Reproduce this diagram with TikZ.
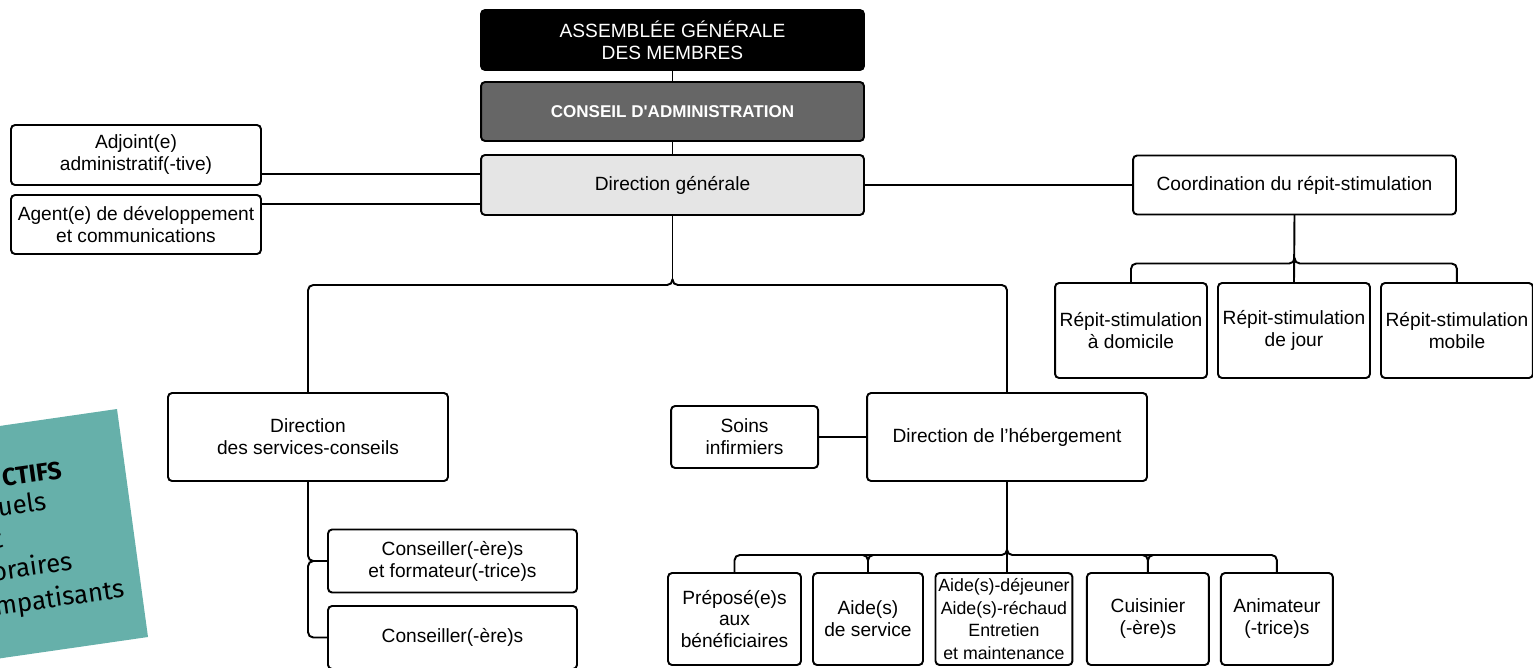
\documentclass[tikz,border=0pt]{standalone}
\usepackage{fontspec}
\setmainfont{Liberation Sans}
\newfontfamily\notefont{Fira Sans}
\usetikzlibrary{ % tikz packages
    positioning,calc
}
\definecolor{boardgray}{HTML}{666666}
\definecolor{dirgray}{HTML}{E5E5E5}
\definecolor{notefill}{RGB}{102,176,170}
\tikzset{unit/.style={
    draw,
    line width=1.1pt,
    rounded corners=2.3pt,
    align=center,
    inner sep=1pt,
    outer sep=0pt,
    font=\fontsize{10.9}{12.5}\selectfont
}}
\tikzset{link/.style={
    line width=1.1pt,
    rounded corners=3pt
}}
\tikzset{notetext/.style={
    rotate=8,
    anchor=base east,
    inner sep=0pt,
    font=\notefont\fontsize{14.7}{16}\selectfont
}}

\begin{document}
\begin{tikzpicture}[x=0.02cm,y=-0.02cm]
            \useasboundingbox (0,0) rectangle (1533,667);

            % card on the left, cut by the page
            \fill[notefill] (-60,434.6) -- (117,409) -- (148,637) -- (-60,667) -- cycle;
            \node[notetext, font=\notefont\bfseries\fontsize{14}{16}\selectfont] (note1) at (63,478) {CTIFS};
            \node[notetext] (note2) at (47.5,510) {uels};
            \node[notetext] (note3) at (4,547) {t};
            \node[notetext] (note4) at (73.5,570) {oraires};
            \node[notetext] (note5) at (125.5,597) {mpatisants};

            \node[unit, fill=black, text=white, minimum width=7.66cm, minimum height=1.2cm] (agm) at (672.5,40) {ASSEMBLÉE GÉNÉRALE\\DES MEMBRES};
            \node[unit, fill=boardgray, text=white, minimum width=7.66cm, minimum height=1.18cm,
                font=\bfseries\fontsize{9.7}{11}\selectfont] (ca) [below=0.24cm of agm] {CONSEIL D\XeTeXglyph\XeTeXcharglyph"27 ADMINISTRATION};
            \node[unit, fill=dirgray, minimum width=7.66cm, minimum height=1.2cm] (dg) [below=0.28cm of ca] {Direction générale};

            \node[unit, minimum width=5cm, minimum height=1.2cm] (adj) at (136,155) {Adjoint(e)\\administratif(-tive)};
            \node[unit, minimum width=5cm, minimum height=1.18cm] (agt) [below=0.2cm of adj] {Agent(e) de développement\\et communications};

            \node[unit, minimum width=6.46cm, minimum height=1.18cm] (coord) at (1294.5,185) {Coordination du répit-stimulation};
            \node[unit, minimum width=3.04cm, minimum height=1.9cm] (rdom) at (1131,330.5) {Répit-stimulation\\à domicile};
            \node[unit, minimum width=3.04cm, minimum height=1.9cm] (rjour) [right=0.22cm of rdom] {Répit-stimulation\\de jour};
            \node[unit, minimum width=3.04cm, minimum height=1.9cm] (rmob) [right=0.22cm of rjour] {Répit-stimulation\\mobile};

            \node[unit, minimum width=5.6cm, minimum height=1.76cm] (dsc) at (308,437) {Direction\\des services-conseils};
            \node[unit, minimum width=4.98cm, minimum height=1.26cm] (cf) at (452.5,561) {Conseiller(-ère)s\\et formateur(-trice)s};
            \node[unit, minimum width=4.98cm, minimum height=1.26cm] (cons) [below=0.27cm of cf] {Conseiller(-ère)s};

            \node[unit, minimum width=5.6cm, minimum height=1.76cm] (dh) at (1007,437) {Direction de l’hébergement};
            \node[unit, minimum width=2.94cm, minimum height=1.24cm] (soins) [left=0.98cm of dh] {Soins\\infirmiers};

            \node[unit, minimum width=2.66cm, minimum height=1.84cm] (pre) at (734.5,619) {Préposé(e)s\\aux\\bénéficiaires};
            \node[unit, minimum width=2.2cm, minimum height=1.84cm] (aid) [right=0.24cm of pre] {Aide(s)\\de service};
            \node[unit, minimum width=2.74cm, minimum height=1.84cm,
                font=\fontsize{10.1}{12.9}\selectfont] (ade) [right=0.25cm of aid] {Aide(s)-déjeuner\\Aide(s)-réchaud\\Entretien\\et maintenance};
            \node[unit, minimum width=2.44cm, minimum height=1.84cm] (cui) [right=0.29cm of ade] {Cuisinier\\(-ère)s};
            \node[unit, minimum width=2.24cm, minimum height=1.84cm] (ani) [right=0.24cm of cui] {Animateur\\(-trice)s};

            \coordinate (dgA) at ($(dg.west)+(0,-11)$);
            \coordinate (dgB) at ($(dg.west)+(0,19)$);
            \coordinate (hubA) at ($(dg.south)+(0,64)$);
            \coordinate (hubB) at ($(coord.south)+(0,43)$);
            \coordinate (hubC) at ($(dh.south)+(0,69)$);

            \path[link]
                (agm) edge (ca)
                (ca) edge (dg)
                (dgA) edge (adj.east |- dgA)
                (dgB) edge (agt.east |- dgB)
                (dg.east) edge (coord.west)
                (coord.south) edge (rjour.north)
                (dg.south) edge (hubA)
                (soins) edge (dh)
                (dh.south) edge (dh.south |- ade.north);

            \draw[link] (dsc.north) |- ($(hubA)+(0,6)$) -- (hubA);
            \draw[link] (dh.north) |- ($(hubA)+(0,6)$) -- (hubA);
            \draw[link] (rdom.north) |- ($(hubB)+(0,6)$) -- (hubB);
            \draw[link] (rmob.north) |- ($(hubB)+(0,6)$) -- (hubB);
            \draw[link] (dsc.south) |- (cf.west);
            \draw[link] ($(cf.west)+(-11,0)$) -| (dsc.south |- cons.west) -- (cons.west);
            \draw[link] (pre.north) |- ($(hubC)+(0,5)$) -- (hubC);
            \draw[link] (ani.north) |- ($(hubC)+(0,5)$) -- (hubC);
            \draw[link] (aid.north) |- +(-10,-18) (aid.north) |- +(10,-18);
            \draw[link] (cui.north) |- +(-10,-18) (cui.north) |- +(10,-18);
        \end{tikzpicture}
\end{document}
